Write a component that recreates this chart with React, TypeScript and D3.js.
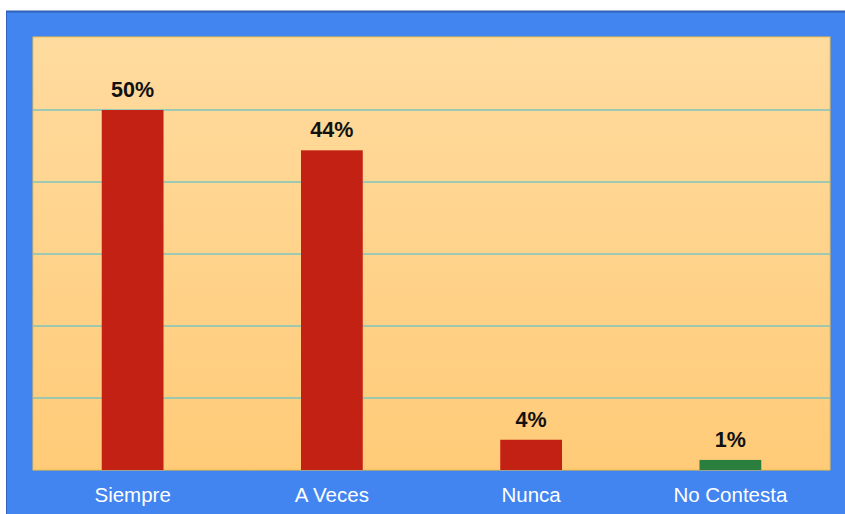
import React from "react";
import * as d3 from "d3";

const categories = ["Siempre", "A Veces", "Nunca", "No Contesta"];
const values = [50, 44.4, 4.2, 1.4];
const valueLabels = ["50%", "44%", "4%", "1%"];
const barColors = ["#C32114", "#C32114", "#C32114", "#2A7E3E"];
const yTicks = [0, 10, 20, 30, 40, 50, 60];

export default function App() {
  const W = 845, H = 514;
  const plot = { x0: 33, x1: 830, y0: 38, y1: 470 };
  const x = d3.scaleBand().domain(categories).range([plot.x0, plot.x1]).paddingInner(0.69).paddingOuter(0.345);
  const y = d3.scaleLinear().domain([0, 60]).range([plot.y1, plot.y0]);
  const font = "'Liberation Sans', Arial, sans-serif";
  return (
    <svg width={W} height={H} style={{ position: "absolute", left: 0, top: 0 }}>
      <defs>
        <linearGradient id="bg" x1="0" y1="0" x2="0" y2="1">
          <stop offset="0" stopColor="#FFDB9F" />
          <stop offset="1" stopColor="#FFCB78" />
        </linearGradient>
      </defs>
      <rect x={0} y={0} width={W} height={H} fill="#ffffff" />
      <rect x={6} y={11} width={W - 6} height={H - 11} fill="#4285F0" />
      <line x1={6} y1={11.5} x2={W} y2={11.5} stroke="#2F62B8" strokeWidth={2} />
      <line x1={6.5} y1={11} x2={6.5} y2={H} stroke="#2F62B8" strokeWidth={1} />
      <rect x={plot.x0} y={plot.y0 - 1} width={plot.x1 - plot.x0} height={plot.y1 - plot.y0 + 1} fill="url(#bg)" stroke="#F2C13E" strokeWidth={1} />
      {yTicks.filter(t => t > 0 && t < 60).map(t => (
        <line key={t} x1={plot.x0} x2={plot.x1} y1={y(t)} y2={y(t)} stroke="#7CC5BE" strokeWidth={1.5} />
      ))}
      {categories.map((c, i) => (
        <g key={c}>
          <rect x={x(c)} y={y(values[i])} width={x.bandwidth()} height={plot.y1 - y(values[i])} fill={barColors[i]} />
          <text x={(x(c) as number) + x.bandwidth() / 2} y={y(values[i]) - 13} textAnchor="middle" fontFamily={font} fontWeight="bold" fontSize={21.5} fill="#111">{valueLabels[i]}</text>
          <text x={(x(c) as number) + x.bandwidth() / 2} y={502} textAnchor="middle" fontFamily={font} fontSize={20.5} fill="#ffffff">{c}</text>
        </g>
      ))}
    </svg>
  );
}
